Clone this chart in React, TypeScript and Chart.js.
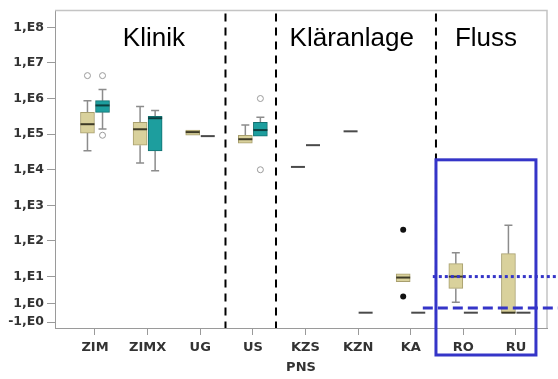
import React, { useEffect, useRef } from "react";
import { Chart, registerables } from "chart.js";
Chart.register(...registerables);

// ---- data ----
const categories = ["ZIM", "ZIMX", "UG", "US", "KZS", "KZN", "KA", "RO", "RU"];
const yTickValues = [1e8, 1e7, 1e6, 1e5, 1e4, 1e3, 1e2, 1e1, 1, -1];
const yTickLabels = ["1,E8", "1,E7", "1,E6", "1,E5", "1,E4", "1,E3", "1,E2", "1,E1", "1,E0", "-1,E0"];

// [min, q1, median, q3, max] per category
const beigeBoxes: number[][] = [
  [3.4e4, 1.07e5, 1.9e5, 4.1e5, 8.7e5],
  [1.55e4, 4.9e4, 1.37e5, 2.15e5, 6.0e5],
  [9.3e4, 9.3e4, 1.14e5, 1.3e5, 1.3e5],
  [5.6e4, 5.6e4, 7.2e4, 9.3e4, 1.8e5],
  [1.2e4, 1.2e4, 1.2e4, 1.2e4, 1.2e4],
  [1.2e5, 1.2e5, 1.2e5, 1.2e5, 1.2e5],
  [6.5, 6.5, 9.2, 12, 12],
  [1.1, 3.6, 10, 23, 47],
  [0, 0, 0, 44, 277],
];
const tealBoxes: number[][] = [
  [1.4e5, 4.1e5, 6.4e5, 8.7e5, 1.8e6],
  [9.3e3, 3.4e4, 2.8e5, 3.16e5, 4.6e5],
  [8.8e4, 8.8e4, 8.8e4, 8.8e4, 8.8e4],
  [8.8e4, 8.8e4, 1.3e5, 2.15e5, 3.0e5],
  [4.9e4, 4.9e4, 4.9e4, 4.9e4, 4.9e4],
  [0, 0, 0, 0, 0],
  [0, 0, 0, 0, 0],
  [0, 0, 0, 0, 0],
  [0, 0, 0, 0, 0],
];
// outliers: [categoryIndex, value]
const beigeOutliers = [[0, 4.4e6]];
const tealOutliers = [[0, 4.4e6], [0, 9.3e4], [3, 1e6], [3, 1e4]];
const beigeExtremes = [[6, 205], [6, 1.8]];

const sectionLabels = ["Klinik", "Kläranlage", "Fluss"];
const sectionLabelCenters = [1.12, 4.88, 7.43];
const sectionBounds = [2.48, 3.44, 6.48];
const flussBox = { from: 6.48, to: 8.38, topValue: 1.9e4 };
const flussDotted = { value: 10, from: 6.42 };
const flussDashed = { value: 0.5, from: 6.23 };

// ---- scale transform (SPSS-like symlog axis) ----
function tr(v: number): number {
  if (v >= 10) return Math.log10(v);
  if (v >= 1) return 0.25 + 0.75 * Math.log10(v);
  if (v >= -1) return -0.014 + 0.264 * v;
  return -0.278 - 0.75 * Math.log10(-v);
}

const OFF = 0.143;
const BEIGE = "#d9d19c";
const BEIGE_BORDER = "#a89f6e";
const TEAL = "#1d9e9e";
const TEAL_BORDER = "#127070";
const BLUE = "#3535c8";
const FONT = "'DejaVu Sans', sans-serif";

export default function App() {
  const ref = useRef<HTMLCanvasElement | null>(null);
  useEffect(() => {
    if (!ref.current) return;
    const series = [
      { boxes: beigeBoxes, off: -OFF, median: "#3d3a26" },
      { boxes: tealBoxes, off: OFF, median: "#0c3f3f" },
    ];
    const boxPlugin = {
      id: "boxParts",
      beforeDatasetsDraw(chart: any) {
        const { ctx, scales } = chart;
        const xs = scales.x, ys = scales.y;
        ctx.save();
        ctx.strokeStyle = "#8c8c8c";
        ctx.lineWidth = 1.5;
        series.forEach((s) => {
          s.boxes.forEach((b, i) => {
            const x = xs.getPixelForValue(i + s.off);
            const yMin = ys.getPixelForValue(tr(b[0]));
            const yQ1 = ys.getPixelForValue(tr(b[1]));
            const yQ3 = ys.getPixelForValue(tr(b[3]));
            const yMax = ys.getPixelForValue(tr(b[4]));
            ctx.beginPath();
            if (yMax < yQ3) {
              ctx.moveTo(x, yQ3); ctx.lineTo(x, yMax);
              ctx.moveTo(x - 4, yMax); ctx.lineTo(x + 4, yMax);
            }
            if (yMin > yQ1) {
              ctx.moveTo(x, yQ1); ctx.lineTo(x, yMin);
              ctx.moveTo(x - 4, yMin); ctx.lineTo(x + 4, yMin);
            }
            ctx.stroke();
          });
        });
        ctx.restore();
      },
      afterDatasetsDraw(chart: any) {
        const { ctx, scales } = chart;
        const xs = scales.x, ys = scales.y;
        ctx.save();
        series.forEach((s) => {
          s.boxes.forEach((b, i) => {
            const x = xs.getPixelForValue(i + s.off);
            const y = ys.getPixelForValue(tr(b[2]));
            const flat = b[1] === b[3];
            ctx.strokeStyle = flat ? "#4a4a4a" : s.median;
            ctx.lineWidth = 2;
            ctx.beginPath();
            ctx.moveTo(x - 7, y);
            ctx.lineTo(x + 7, y);
            ctx.stroke();
          });
        });
        ctx.restore();
      },
      afterDraw(chart: any) {
        const { ctx, scales, chartArea } = chart;
        const xs = scales.x, ys = scales.y;
        ctx.save();
        // frame top/right
        ctx.strokeStyle = "#c4c4c4";
        ctx.lineWidth = 1.5;
        ctx.beginPath();
        ctx.moveTo(chartArea.left, chartArea.top);
        ctx.lineTo(chartArea.right, chartArea.top);
        ctx.lineTo(chartArea.right, chartArea.bottom);
        ctx.stroke();
        // section separators
        ctx.strokeStyle = "#000";
        ctx.lineWidth = 2;
        ctx.setLineDash([8, 6]);
        sectionBounds.forEach((b) => {
          const x = xs.getPixelForValue(b);
          ctx.beginPath();
          ctx.moveTo(x, chartArea.top + 3);
          ctx.lineTo(x, chartArea.bottom);
          ctx.stroke();
        });
        ctx.setLineDash([]);
        // section labels
        ctx.fillStyle = "#000";
        ctx.font = "26px 'Liberation Sans', Arial, sans-serif";
        ctx.textAlign = "center";
        ctx.textBaseline = "alphabetic";
        sectionLabels.forEach((t, i) => {
          ctx.fillText(t, xs.getPixelForValue(sectionLabelCenters[i]), chartArea.top + 35);
        });
        // blue highlight
        ctx.strokeStyle = BLUE;
        ctx.lineWidth = 3;
        const l = xs.getPixelForValue(flussBox.from);
        const r = xs.getPixelForValue(flussBox.to);
        const t = ys.getPixelForValue(tr(flussBox.topValue));
        const btm = chartArea.bottom + 27;
        ctx.strokeRect(l, t, r - l, btm - t);
        ctx.setLineDash([3, 3]);
        let y = ys.getPixelForValue(tr(flussDotted.value));
        ctx.beginPath();
        ctx.moveTo(xs.getPixelForValue(flussDotted.from), y);
        ctx.lineTo(chart.width, y);
        ctx.stroke();
        ctx.setLineDash([10, 5]);
        y = ys.getPixelForValue(tr(flussDashed.value));
        ctx.beginPath();
        ctx.moveTo(xs.getPixelForValue(flussDashed.from), y);
        ctx.lineTo(chart.width, y);
        ctx.stroke();
        ctx.restore();
      },
    };

    const boxData = (boxes: number[][], off: number) =>
      boxes.map((b, i) => ({ x: i + off, y: [tr(b[1]), tr(b[3])] }));
    const ptData = (pts: number[][], off: number) =>
      pts.map((p) => ({ x: p[0] + off, y: tr(p[1]) }));

    const chart = new Chart(ref.current, {
      type: "bar",
      data: {
        datasets: [
          {
            type: "bar",
            data: boxData(beigeBoxes, -OFF) as any,
            backgroundColor: BEIGE,
            borderColor: BEIGE_BORDER,
            borderWidth: 1,
            borderSkipped: false,
            barThickness: 14,
            grouped: false,
          } as any,
          {
            type: "bar",
            data: boxData(tealBoxes, OFF) as any,
            backgroundColor: TEAL,
            borderColor: TEAL_BORDER,
            borderWidth: 1,
            borderSkipped: false,
            barThickness: 14,
            grouped: false,
          } as any,
          {
            type: "scatter",
            data: ptData(beigeOutliers, -OFF) as any,
            pointRadius: 3,
            pointBorderWidth: 1,
            pointBackgroundColor: "rgba(255,255,255,0)",
            pointBorderColor: "#9a9a9a",
          } as any,
          {
            type: "scatter",
            data: ptData(tealOutliers, OFF) as any,
            pointRadius: 3,
            pointBorderWidth: 1,
            pointBackgroundColor: "rgba(255,255,255,0)",
            pointBorderColor: "#9a9a9a",
          } as any,
          {
            type: "scatter",
            data: ptData(beigeExtremes, -OFF) as any,
            pointRadius: 3,
            pointBorderWidth: 0,
            pointBackgroundColor: "#111",
            pointBorderColor: "#111",
          } as any,
        ],
      },
      options: {
        animation: false,
        responsive: false,
        maintainAspectRatio: false,
        layout: { padding: { top: 7, right: 11, left: 0, bottom: 0 } },
        plugins: { legend: { display: false }, tooltip: { enabled: false } },
        scales: {
          x: {
            type: "linear",
            offset: false,
            min: -0.76,
            max: 8.59,
            afterBuildTicks: (s: any) => {
              s.ticks = categories.map((_, i) => ({ value: i }));
            },
            afterFit: (s: any) => {
              s.height = 51;
            },
            ticks: {
              autoSkip: false,
              maxRotation: 0,
              padding: 5,
              color: "#333",
              font: { family: FONT, weight: "bold", size: 13 },
              callback: (v: any) => categories[v as number] ?? "",
            },
            grid: { offset: false, drawOnChartArea: false, drawTicks: true, tickLength: 7, color: "#9a9a9a" },
            border: { color: "#9a9a9a", width: 1 },
            title: {
              display: true,
              text: "PNS",
              color: "#333",
              font: { family: FONT, weight: "bold", size: 13 },
              padding: { top: 0, bottom: 4 },
            },
          },
          y: {
            type: "linear",
            min: -0.444,
            max: 8.472,
            afterBuildTicks: (s: any) => {
              s.ticks = yTickValues.map((v) => ({ value: tr(v) }));
            },
            afterFit: (s: any) => {
              s.width = 55;
            },
            ticks: {
              autoSkip: false,
              padding: 3,
              color: "#333",
              font: { family: FONT, weight: "bold", size: 12.5 },
              callback: (_v: any, i: number) => yTickLabels[i],
            },
            grid: { drawOnChartArea: false, drawTicks: true, tickLength: 8, color: "#9a9a9a" },
            border: { color: "#9a9a9a", width: 1 },
          },
        },
      } as any,
      plugins: [boxPlugin],
    });
    return () => chart.destroy();
  }, []);

  return (
    <div style={{ position: "absolute", left: 0, top: 0, width: 558, height: 379, background: "#fff" }}>
      <canvas ref={ref} width={558} height={379} style={{ display: "block" }} />
    </div>
  );
}
